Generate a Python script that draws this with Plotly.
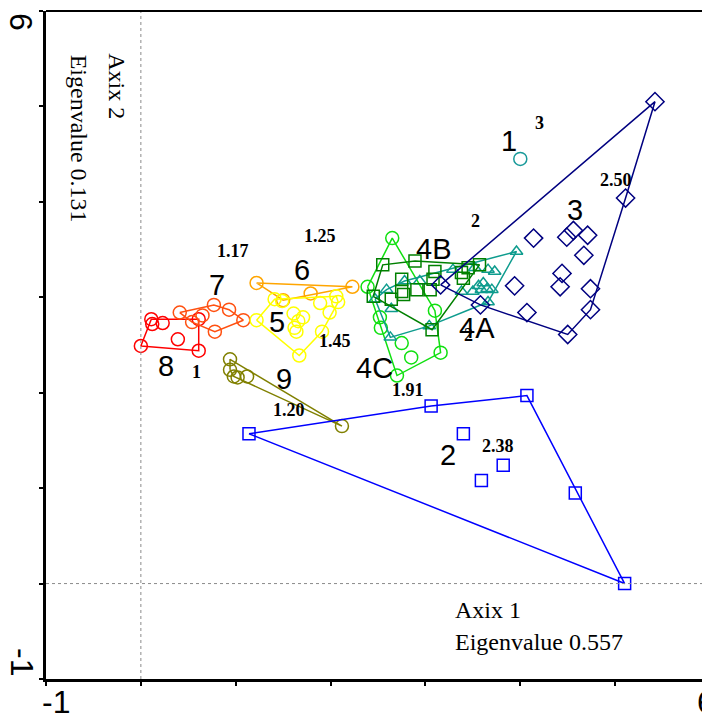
import plotly.graph_objects as go

# ---- data (axis 1, axis 2 scores per group) ----
g1_x = [4.00]
g1_y = [4.45]
g2_x = [1.14, 3.06, 4.07, 3.40, 3.82, 3.59, 4.58, 5.10]
g2_y = [1.57, 1.86, 1.97, 1.57, 1.24, 1.08, 0.95, 0.00]
g3_x = [5.42, 5.11, 4.14, 4.49, 4.56, 4.71, 4.67, 4.44, 4.42, 3.94, 4.74, 4.74, 4.07, 4.50, 3.58, 3.16]
g3_y = [5.05, 4.04, 3.62, 3.63, 3.70, 3.65, 3.44, 3.25, 3.11, 3.12, 3.09, 2.87, 2.84, 2.61, 2.92, 3.13]
g4a_x = [3.96, 3.73, 3.66, 3.52, 3.29, 3.50, 3.59, 3.56, 3.65, 3.70, 3.61, 3.38, 3.66, 2.78, 2.94, 2.59, 2.47, 2.64, 2.63, 3.04]
g4a_y = [3.48, 3.27, 3.29, 3.31, 3.29, 3.06, 3.08, 3.12, 3.09, 3.08, 3.15, 3.06, 2.95, 3.17, 3.17, 3.08, 2.98, 2.88, 2.58, 2.70]
g4b_x = [2.55, 2.89, 3.10, 3.38, 3.45, 3.40, 3.57, 3.08, 3.05, 2.91, 2.75, 2.77, 2.64, 2.45, 2.75, 3.07]
g4b_y = [3.34, 3.38, 3.27, 3.26, 3.31, 3.20, 3.34, 3.19, 3.08, 3.08, 3.19, 3.03, 2.98, 3.01, 3.06, 2.66]
g4c_x = [2.65, 2.39, 2.52, 2.53, 2.75, 2.85, 3.16, 2.70, 3.10]
g4c_y = [3.62, 3.11, 2.79, 2.68, 2.52, 2.37, 2.42, 2.18, 2.86]
g5_x = [1.22, 1.41, 1.49, 1.61, 1.71, 1.66, 1.62, 1.64, 1.91, 1.67, 1.89, 1.99, 2.06, 2.08]
g5_y = [2.76, 2.98, 2.96, 2.83, 2.79, 2.75, 2.68, 2.64, 2.64, 2.39, 2.94, 2.84, 3.01, 2.95]
g6_x = [1.22, 2.23, 1.79, 1.50]
g6_y = [3.15, 3.11, 3.04, 2.97]
g7_x = [0.41, 0.54, 0.77, 0.93, 1.08, 0.78, 0.65]
g7_y = [2.84, 2.74, 2.92, 2.87, 2.76, 2.64, 2.81]
g8_x = [0.11, 0.12, 0.23, 0.39, 0.00, 0.61, 0.61]
g8_y = [2.77, 2.72, 2.73, 2.56, 2.49, 2.44, 2.77]
g9_x = [0.94, 0.94, 0.98, 1.02, 1.12, 2.12]
g9_y = [2.35, 2.24, 2.17, 2.16, 2.17, 1.65]

group_names = ["1", "2", "3", "4A", "4B", "4C", "5", "6", "7", "8", "9"]
group_values = ["3", "2.38", "2.50", "2", "2", "1.91", "1.45", "1.25", "1.17", "1", "1.20"]

# ---- styles / label positions ----
style = {
    "9": ("#808000", "circle-open", 13),
    "8": ("#FF0000", "circle-open", 13),
    "7": ("#FF5010", "circle-open", 13),
    "6": ("#FFA500", "circle-open", 13),
    "5": ("#FFFF00", "circle-open", 13),
    "4C": ("#10E010", "circle-open", 13),
    "4A": ("#0E9C8E", "triangle-up-open", 11),
    "4B": ("#008000", "square-open", 12),
    "3": ("#000080", "diamond-open", 14),
    "2": ("#0000FF", "square-open", 12),
    "1": ("#199A9A", "circle-open", 13),
}
data = {
    "1": (g1_x, g1_y), "2": (g2_x, g2_y), "3": (g3_x, g3_y),
    "4A": (g4a_x, g4a_y), "4B": (g4b_x, g4b_y), "4C": (g4c_x, g4c_y),
    "5": (g5_x, g5_y), "6": (g6_x, g6_y), "7": (g7_x, g7_y),
    "8": (g8_x, g8_y), "9": (g9_x, g9_y),
}
name_pos = {
    "1": (3.88, 4.64), "2": (3.24, 1.35), "3": (4.58, 3.91), "4A": (3.54, 2.68),
    "4B": (3.09, 3.51), "4C": (2.46, 2.26), "5": (1.43, 2.74), "6": (1.70, 3.29),
    "7": (0.80, 3.13), "8": (0.26, 2.28), "9": (1.51, 2.14),
}
value_pos = {
    "1": (4.20, 4.83), "2": (3.76, 1.44), "3": (5.01, 4.23), "4A": (3.45, 2.60),
    "4B": (3.53, 3.80), "4C": (2.82, 2.03), "5": (2.05, 2.54), "6": (1.89, 3.64),
    "7": (0.97, 3.48), "8": (0.59, 2.22), "9": (1.56, 1.82),
}


def hull(xs, ys):
    pts = sorted(set(zip(xs, ys)))
    if len(pts) < 3:
        return pts

    def cross(o, a, b):
        return (a[0] - o[0]) * (b[1] - o[1]) - (a[1] - o[1]) * (b[0] - o[0])

    lower, upper = [], []
    for p in pts:
        while len(lower) >= 2 and cross(lower[-2], lower[-1], p) <= 0:
            lower.pop()
        lower.append(p)
    for p in reversed(pts):
        while len(upper) >= 2 and cross(upper[-2], upper[-1], p) <= 0:
            upper.pop()
        upper.append(p)
    h = lower[:-1] + upper[:-1]
    return h + [h[0]]


fig = go.Figure()
order = ["9", "8", "7", "6", "5", "4C", "4A", "4B", "3", "2", "1"]
for g in order:
    xs, ys = data[g]
    col, sym, sz = style[g]
    if len(xs) > 1:
        h = hull(xs, ys)
        fig.add_trace(go.Scatter(x=[p[0] for p in h], y=[p[1] for p in h], mode="lines",
                                 line=dict(color=col, width=1.5), hoverinfo="skip"))
    fig.add_trace(go.Scatter(x=xs, y=ys, mode="markers", name=g,
                             marker=dict(symbol=sym, size=sz, color=col, line=dict(width=1.5, color=col))))

ann = []
for g, v in zip(group_names, group_values):
    px, py = name_pos[g]
    ann.append(dict(x=px, y=py, text=g, showarrow=False, xanchor="center", yanchor="middle",
                    font=dict(family="Liberation Sans, Arial, sans-serif", size=29, color="black")))
    vx, vy = value_pos[g]
    ann.append(dict(x=vx, y=vy, text="<b>" + v + "</b>", showarrow=False, xanchor="center", yanchor="middle",
                    font=dict(family="Liberation Serif, Times New Roman, serif", size=18, color="black")))

serif = dict(family="Liberation Serif, Times New Roman, serif", size=24, color="black")
ann += [
    dict(x=-0.26, y=5.21, text="Axix 2", textangle=90, showarrow=False,
         xanchor="center", yanchor="middle", font=serif),
    dict(x=-0.65, y=4.66, text="Eigenvalue 0.131", textangle=90, showarrow=False,
         xanchor="center", yanchor="middle", font=serif),
    dict(x=3.29, y=-0.28, text="Axix 1", xanchor="left", yanchor="middle", showarrow=False, font=serif),
    dict(x=3.29, y=-0.61, text="Eigenvalue 0.557", xanchor="left", yanchor="middle", showarrow=False, font=serif),
]

sans = dict(family="Liberation Sans, Arial, sans-serif", size=32, color="black")
ann += [
    dict(x=-1, xshift=10, xref="x", y=-0.034, yref="paper", text="-1", showarrow=False,
         xanchor="center", yanchor="middle", font=sans),
    dict(x=6, xshift=-4, xref="x", y=-0.034, yref="paper", text="6", showarrow=False,
         xanchor="center", yanchor="middle", font=sans),
    dict(x=-0.0377, xref="paper", y=0.9835, yref="paper", text="6", textangle=90, showarrow=False,
         xanchor="center", yanchor="middle", font=sans),
    dict(x=-0.0362, xref="paper", y=0.0254, yref="paper", text="-1", textangle=90, showarrow=False,
         xanchor="center", yanchor="middle", font=sans),
]

ticks = list(range(-1, 7))
axis_common = dict(range=[-1, 6], showgrid=False, zeroline=False, showline=True,
                   linecolor="black", linewidth=2.5, ticks="outside", ticklen=4,
                   tickwidth=1.5, tickcolor="black", tickvals=ticks, showticklabels=False)

# page body has an 8px margin: figure is sized so the plot area sits where the reference's does
fig.update_layout(
    width=702, height=709,
    margin=dict(l=38, r=0, t=3, b=38),
    plot_bgcolor="white", paper_bgcolor="white",
    showlegend=False,
    xaxis=axis_common, yaxis=axis_common,
    annotations=ann,
    shapes=[
        dict(type="line", xref="x", yref="paper", x0=0, x1=0, y0=0, y1=1,
             line=dict(color="#8a8a8a", width=1, dash="dot")),
        dict(type="line", xref="paper", yref="y", x0=0, x1=1, y0=0, y1=0,
             line=dict(color="#8a8a8a", width=1, dash="dot")),
        dict(type="line", xref="paper", yref="paper", x0=0, x1=1, y0=1, y1=1,
             line=dict(color="black", width=2)),
    ],
)

fig.write_html("out.html")
